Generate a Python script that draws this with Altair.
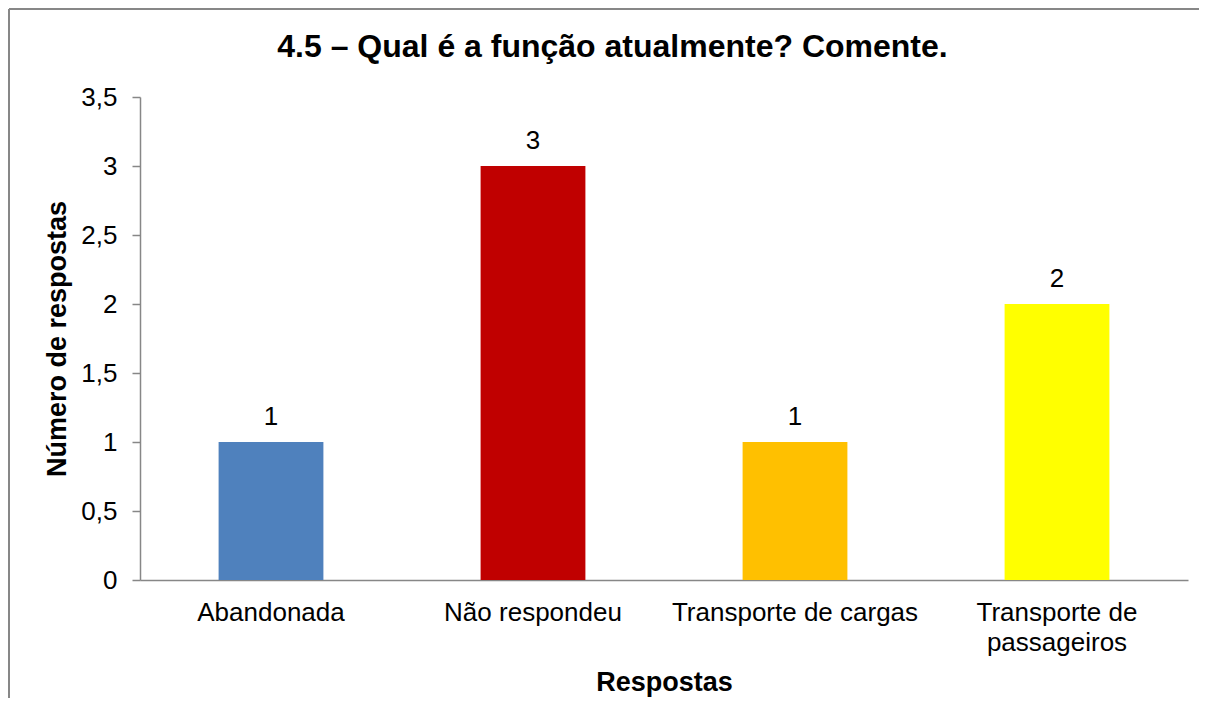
import altair as alt
import pandas as pd

# --- data -------------------------------------------------------------
categorias = ["Abandonada", "Não respondeu", "Transporte de cargas", "Transporte de\npassageiros"]
respostas = [1, 3, 1, 2]
cores = ["#4F81BD", "#C00000", "#FFC000", "#FFFF00"]
ticks_y = [0, 0.5, 1, 1.5, 2, 2.5, 3, 3.5]
titulo = "4.5 – Qual é a função atualmente? Comente."
titulo_x = "Respostas"
titulo_y = "Número de respostas"

df = pd.DataFrame({"categoria": categorias, "respostas": respostas})

W, H = 1048, 483
FONT = "Liberation Sans"
GRAY = "#878787"

x_enc = alt.X(
    "categoria:N",
    sort=categorias,
    scale=alt.Scale(paddingInner=0.6, paddingOuter=0.3),
    axis=alt.Axis(
        title=titulo_x,
        labelAngle=0,
        ticks=False,
        tickSize=0,
        labelPadding=40,
        labelBaseline="alphabetic",
        labelExpr="split(datum.label, '\\n')",
        labelLineHeight=30,
        labelLimit=0,
        labelFontSize=26,
        labelFont=FONT,
        labelColor="#000000",
        titleFont=FONT,
        titleFontSize=27,
        titleFontWeight="bold",
        titleColor="#000000",
        titleY=110,
        titleBaseline="alphabetic",
        domainColor=GRAY,
        domainWidth=1.5,
        grid=False,
    ),
)
y_enc = alt.Y(
    "respostas:Q",
    scale=alt.Scale(domain=[0, 3.5], nice=False),
    axis=alt.Axis(
        title=titulo_y,
        values=ticks_y,
        labelExpr="replace(format(datum.value, '~g'), '.', ',')",
        labelFontSize=26,
        labelFont=FONT,
        labelColor="#000000",
        labelPadding=15,
        tickSize=8,
        tickColor=GRAY,
        tickWidth=1.5,
        domainColor=GRAY,
        domainWidth=1.5,
        grid=False,
        titleFont=FONT,
        titleFontSize=27,
        titleFontWeight="bold",
        titleColor="#000000",
        titleX=-83,
        titleY=H / 2,
        titleAngle=-90,
        titleBaseline="middle",
        titleAlign="center",
    ),
)

base = alt.Chart(df)

bars = base.mark_bar().encode(
    x=x_enc,
    y=y_enc,
    color=alt.Color("categoria:N", sort=categorias,
                    scale=alt.Scale(domain=categorias, range=cores), legend=None),
)

valores = base.mark_text(
    baseline="alphabetic", dy=-17, fontSize=26, font=FONT, color="#000000"
).encode(
    x=alt.X("categoria:N", sort=categorias),
    y=alt.Y("respostas:Q"),
    text=alt.Text("respostas:Q"),
)

one = alt.Data(values=[{"k": 0}])

titulo_mark = alt.Chart(one).mark_text(
    text=titulo, fontSize=32, fontWeight="bold", font=FONT, color="#000000",
    baseline="alphabetic", align="center",
).encode(x=alt.value(472.5), y=alt.value(-40))

borda_esq = alt.Chart(one).mark_rule(color=GRAY, strokeWidth=2).encode(
    x=alt.value(-131), y=alt.value(-88), y2=alt.value(601)
)
borda_topo = alt.Chart(one).mark_rule(color=GRAY, strokeWidth=2).encode(
    x=alt.value(-131), x2=alt.value(1059), y=alt.value(-88)
)

chart = (
    alt.layer(borda_esq, borda_topo, bars, valores, titulo_mark)
    .properties(
        width=W,
        height=H,
        autosize=alt.AutoSizeParams(type="none"),
        padding={"left": 132, "top": 89, "right": 11, "bottom": 118},
        background="#ffffff",
    )
    .configure_view(stroke=None)
)

chart.save("out.html", embed_options={"renderer": "svg", "actions": False})
